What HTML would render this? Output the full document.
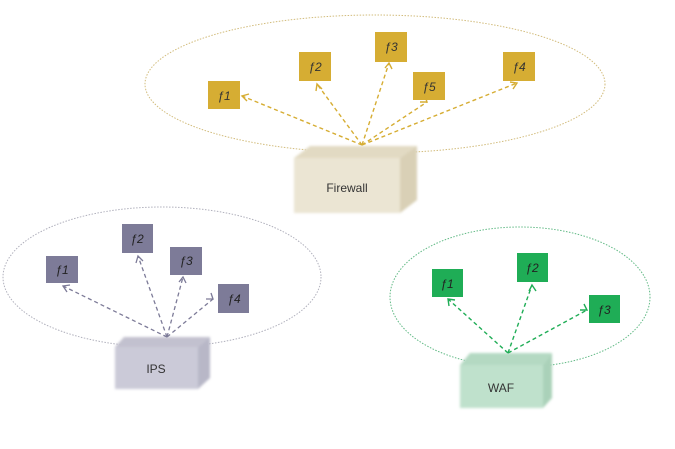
<!DOCTYPE html>
<html><head><style>html,body{margin:0;padding:0;background:#fff;}svg{display:block}</style></head>
<body>
<svg width="675" height="449" viewBox="0 0 675 449" xmlns="http://www.w3.org/2000/svg" font-family="Liberation Sans, sans-serif">
<defs>
<filter id="sh" x="-20%" y="-20%" width="140%" height="140%"><feGaussianBlur stdDeviation="1.2"/></filter>
</defs>
<!-- Firewall -->
<ellipse cx="375" cy="84" rx="230" ry="69" fill="none" stroke="#d2bc7c" stroke-width="1" stroke-dasharray="1.5,1.5"/>
<g filter="url(#sh)">
<polygon points="294,158 310,146 417,146 400,158" fill="#e2dac3"/>
<polygon points="400,158 417,146 417,200 400,213" fill="#d9d0b6"/>
<rect x="294" y="158" width="106" height="55" fill="#ebe5d3"/>
</g>
<text x="347" y="192" font-size="12" fill="#333" text-anchor="middle">Firewall</text>
<g fill="#d6ad33">
<rect x="208" y="81" width="32" height="28"/><rect x="299" y="52" width="32" height="29"/><rect x="375" y="32" width="32" height="30"/><rect x="413" y="72" width="32" height="28"/><rect x="503" y="52" width="32" height="29"/>
</g>
<g font-size="12" font-style="italic" fill="#333" text-anchor="middle">
<text x="224" y="100">ƒ1</text><text x="315" y="71">ƒ2</text><text x="391" y="51">ƒ3</text><text x="429" y="91">ƒ5</text><text x="519" y="71">ƒ4</text>
</g>
<g stroke="#d6ad33" stroke-width="1.4" stroke-dasharray="4,3" fill="none">
<line x1="362" y1="145" x2="242" y2="96"/><line x1="362" y1="145" x2="317" y2="84"/><line x1="362" y1="145" x2="389" y2="63"/><line x1="362" y1="145" x2="427" y2="102"/><line x1="362" y1="145" x2="517" y2="83"/>
</g>
<g stroke="#d6ad33" stroke-width="1.4" fill="none">
<polyline points="249,94 242,96 247,101"/><polyline points="316,91 317,84 322,89"/><polyline points="385,68 389,63 392,69"/><polyline points="420,102 427,102 425,96"/><polyline points="510,82 517,83 513,89"/>
</g>
<!-- IPS -->
<ellipse cx="162" cy="277" rx="159" ry="70" fill="none" stroke="#b0b0bc" stroke-width="1" stroke-dasharray="1.5,1.5"/>
<g filter="url(#sh)">
<polygon points="115,347 124,337 210,337 198,347" fill="#c2c1cf"/>
<polygon points="198,347 210,337 210,378 198,389" fill="#b8b7c7"/>
<rect x="115" y="347" width="83" height="42" fill="#cbcad8"/>
</g>
<text x="156" y="373" font-size="12" fill="#333" text-anchor="middle">IPS</text>
<g fill="#7d7b98">
<rect x="46" y="256" width="32" height="27"/><rect x="122" y="224" width="31" height="29"/><rect x="170" y="247" width="32" height="28"/><rect x="218" y="284" width="31" height="29"/>
</g>
<g font-size="12" font-style="italic" fill="#222" text-anchor="middle">
<text x="62" y="274">ƒ1</text><text x="137" y="243">ƒ2</text><text x="186" y="265">ƒ3</text><text x="234" y="303">ƒ4</text>
</g>
<g stroke="#7d7b98" stroke-width="1.3" stroke-dasharray="4,3" fill="none">
<line x1="167" y1="337" x2="63" y2="286"/><line x1="167" y1="337" x2="138" y2="256"/><line x1="167" y1="337" x2="183" y2="277"/><line x1="167" y1="337" x2="213" y2="299"/>
</g>
<g stroke="#7d7b98" stroke-width="1.3" fill="none">
<polyline points="70,285 63,286 67,292"/><polyline points="136,263 138,256 143,261"/><polyline points="179,282 183,277 186,283"/><polyline points="206,299 213,299 211,293"/>
</g>
<!-- WAF -->
<ellipse cx="520" cy="297" rx="130" ry="70" fill="none" stroke="#62ba86" stroke-width="1" stroke-dasharray="1.5,1.5"/>
<g filter="url(#sh)">
<polygon points="460,365 470,353 552,353 543,365" fill="#b4d9c2"/>
<polygon points="543,365 552,353 552,398 543,408" fill="#aad1b9"/>
<rect x="460" y="365" width="83" height="43" fill="#bfe1cc"/>
</g>
<text x="501" y="392" font-size="12" fill="#333" text-anchor="middle">WAF</text>
<g fill="#1fad56">
<rect x="432" y="269" width="31" height="28"/><rect x="517" y="253" width="31" height="29"/><rect x="589" y="295" width="31" height="28"/>
</g>
<g font-size="12" font-style="italic" fill="#222" text-anchor="middle">
<text x="447" y="288">ƒ1</text><text x="532" y="272">ƒ2</text><text x="604" y="314">ƒ3</text>
</g>
<g stroke="#1fad56" stroke-width="1.4" stroke-dasharray="4,3" fill="none">
<line x1="508" y1="353" x2="448" y2="299"/><line x1="508" y1="353" x2="532" y2="285"/><line x1="508" y1="353" x2="587" y2="310"/>
</g>
<g stroke="#1fad56" stroke-width="1.4" fill="none">
<polyline points="455,300 448,299 449,306"/><polyline points="529,291 532,285 536,291"/><polyline points="580,310 587,310 584,304"/>
</g>
</svg>
</body></html>
